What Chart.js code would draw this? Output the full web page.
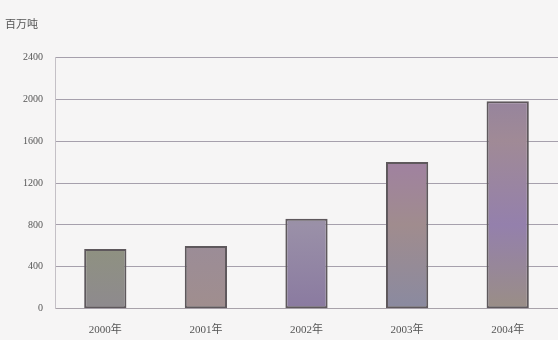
<!DOCTYPE html>
<html>
<head>
<meta charset="utf-8">
<script src="https://cdn.jsdelivr.net/npm/chart.js@4.4.1/dist/chart.umd.min.js"></script>
<style>
  html, body { margin: 0; padding: 0; background: #f6f5f5; }
  #wrap { width: 558px; height: 340px; position: relative; }
</style>
</head>
<body>
<div id="wrap"><canvas id="prodChart"></canvas></div>
<script>
// ===== DATA =====
const years = ["2000年", "2001年", "2002年", "2003年", "2004年"];
const output = [570, 600, 860, 1400, 1980];
const yTicks = [0, 400, 800, 1200, 1600, 2000, 2400];
const unitLabel = "百万吨";

// mottled scan-like fills, one set of stops per bar
const barStops = [
  ["#9a8f86", "#968f7a", "#8f947c", "#8e8a8e"],
  ["#8e7896", "#a084a6", "#9a8c9a", "#a08e8e"],
  ["#9e8a84", "#929a7e", "#9a90a8", "#8a7aa0"],
  ["#9c9c80", "#a07ea6", "#a08c8e", "#8a8aa0"],
  ["#8c7ea4", "#a08a96", "#9480ac", "#9a8e86"]
];

const fontFam = "'Liberation Serif', 'Noto Sans CJK SC', serif";

// ===== CHART =====
const prodChart = new Chart(document.getElementById("prodChart"), {
  type: "bar",
  data: {
    labels: years,
    datasets: [{
      label: unitLabel,
      data: output,
      backgroundColor: ctx => {
        const area = ctx.chart.chartArea;
        if (!area) return "#9a8a9a";
        const stops = barStops[ctx.dataIndex];
        const g = ctx.chart.ctx.createLinearGradient(0, area.top, 0, area.bottom);
        stops.forEach((c, i) => g.addColorStop(i / (stops.length - 1), c));
        return g;
      },
      borderColor: "#5e585c",
      borderWidth: 2,
      borderSkipped: false,
      barPercentage: 0.42,
      categoryPercentage: 1.0
    }]
  },
  options: {
    responsive: true,
    maintainAspectRatio: false,
    animation: false,
    layout: { padding: { top: 0, right: -3, left: 5, bottom: -12 } },
    plugins: {
      legend: { display: false },
      tooltip: { enabled: false },
      title: {
        display: true,
        text: unitLabel,
        align: "start",
        color: "#555",
        font: { family: fontFam, size: 11, weight: "normal" },
        padding: { top: 19, bottom: 25 }
      }
    },
    scales: {
      x: {
        grid: { display: false, drawTicks: false },
        border: { display: true, color: "#a8a2aa", width: 1 },
        ticks: {
          color: "#555",
          font: { family: fontFam, size: 11 },
          padding: 15
        }
      },
      y: {
        min: 0,
        max: 2400,
        afterBuildTicks: axis => { axis.ticks = yTicks.map(v => ({ value: v })); },
        afterFit: axis => { axis.width = 50; },
        grid: { color: "#a6a0ac", lineWidth: 1, drawTicks: false },
        border: { display: true, color: "#c4c0c6", width: 1 },
        ticks: {
          color: "#555",
          font: { family: fontFam, size: 10 },
          padding: 12,
          callback: v => String(v)
        }
      }
    }
  }
});
</script>
</body>
</html>
